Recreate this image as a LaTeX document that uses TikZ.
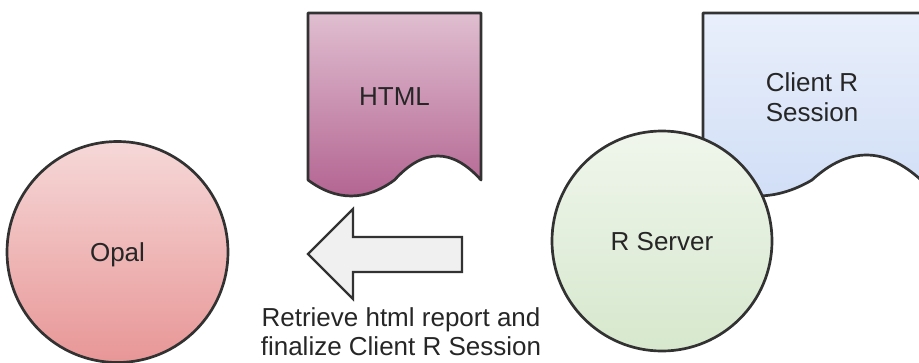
\documentclass[tikz,border=0pt]{standalone}
\usepackage{fontspec}
\setmainfont{Liberation Sans}
\definecolor{strokec}{RGB}{50,50,50}
\definecolor{htmltop}{RGB}{224,190,208}
\definecolor{htmlbot}{RGB}{178,98,144}
\definecolor{opaltop}{RGB}{246,216,216}
\definecolor{opalbot}{RGB}{232,150,150}
\definecolor{srvtop}{RGB}{240,246,236}
\definecolor{srvbot}{RGB}{214,232,205}
\definecolor{clitop}{RGB}{233,239,251}
\definecolor{clibot}{RGB}{208,222,246}
\definecolor{arrowfill}{RGB}{240,240,240}
\begin{document}
\begin{tikzpicture}[x=1pt,y=-1pt,
  shapeline/.style={draw=strokec, line width=2.7pt, line join=round},
  txt/.style={font=\fontsize{26}{30}\selectfont, text=black!85},
  bubble/.style={shapeline, circle, inner sep=0pt, txt, text depth=0pt},
  lbl/.style={txt, align=center, inner sep=0pt}]
\useasboundingbox (0,0) rectangle (919,362);
% Client R Session document (behind the R Server circle)
\path[shapeline, top color=clitop, bottom color=clibot]
  (703,13) -- (921,13) -- (921,180)
  .. controls (884.7,146.7) and (848.3,146.7) .. (812,180)
  .. controls (775.7,201.3) and (739.3,201.3) .. (703,180) -- cycle;
\node[lbl] (client) at (812,97.5) {Client R\\Session};
% HTML document
\path[shapeline, top color=htmltop, bottom color=htmlbot]
  (308,13) -- (481,13) -- (481,180)
  .. controls (452.3,148) and (423.5,148) .. (394.5,180)
  .. controls (365.5,201.3) and (336.7,201.3) .. (308,180) -- cycle;
\node[lbl] (html) at (394.5,97) {HTML};
% circles
\node[bubble, minimum size=221pt, top color=opaltop, bottom color=opalbot] (opal) at (117.5,252) {Opal};
\node[bubble, minimum size=220pt, top color=srvtop, bottom color=srvbot] (server) at (662,241) {R Server};
% block arrow
\draw[draw=strokec, line width=2.2pt, line join=miter, fill=arrowfill]
  (308,254) -- (353,209) -- (353,237) -- (462,237) -- (462,272) -- (353,272) -- (353,299) -- cycle;
\node[lbl, font=\fontsize{26}{29}\selectfont, anchor=center] (retrieve) at (401,332) {Retrieve html report and\\finalize Client R Session};
\end{tikzpicture}
\end{document}
